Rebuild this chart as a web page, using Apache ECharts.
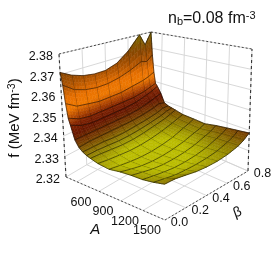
<!DOCTYPE html>
<html><head><meta charset="utf-8">
<style>html,body{margin:0;padding:0;background:#fff}#c{width:273px;height:255px;filter:blur(0.5px)}</style>
<script src="https://cdn.jsdelivr.net/npm/echarts@6/dist/echarts.min.js"></script>
</head><body><div id="c"></div>
<script>
const aValues=[150,175,200,225,250,300,350,400,450,500,600,750,900,1050,1200,1350,1500];
const betaValues=[0,0.1,0.2,0.3,0.4,0.5,0.6,0.7,0.75,0.8];
const fRows=[
[2.371,2.368,2.366,2.365,2.365,2.367,2.372,2.380,2.373,2.380],
[2.365,2.361,2.359,2.358,2.358,2.359,2.361,2.364,2.363,2.366],
[2.3563,2.353,2.352,2.351,2.351,2.351,2.352,2.353,2.354,2.3556],
[2.3495,2.347,2.346,2.346,2.346,2.346,2.346,2.347,2.348,2.349],
[2.3464,2.344,2.343,2.343,2.343,2.343,2.3435,2.345,2.346,2.3475],
[2.340,2.340,2.340,2.340,2.340,2.340,2.3405,2.342,2.343,2.344],
[2.337,2.3375,2.3375,2.3375,2.3375,2.3375,2.338,2.339,2.340,2.339],
[2.3355,2.3355,2.3355,2.335,2.335,2.3355,2.336,2.337,2.338,2.338],
[2.3345,2.3345,2.3342,2.3338,2.3338,2.3342,2.335,2.336,2.337,2.3375],
[2.3338,2.3335,2.333,2.3325,2.3325,2.333,2.334,2.335,2.336,2.337],
[2.3327,2.332,2.3315,2.331,2.331,2.3315,2.3325,2.334,2.335,2.336],
[2.332,2.3312,2.3305,2.330,2.330,2.3305,2.3315,2.3335,2.3345,2.3357],
[2.3327,2.3315,2.3305,2.330,2.330,2.3305,2.3315,2.3332,2.334,2.3353],
[2.333,2.332,2.331,2.3305,2.3305,2.331,2.332,2.3338,2.3348,2.3365],
[2.333,2.3322,2.3315,2.331,2.331,2.3315,2.3325,2.3345,2.3355,2.3373],
[2.3336,2.3328,2.332,2.3318,2.3318,2.3322,2.333,2.3348,2.336,2.338],
[2.3345,2.3345,2.3338,2.333,2.3327,2.3328,2.3335,2.335,2.3365,2.3387]
];
const aTicks=[300,600,900,1200,1500], aLabels=[600,900,1200,1500];
const betaTicks=[0,0.2,0.4,0.6,0.8];
const fTicks=[2.32,2.33,2.34,2.35,2.36,2.37,2.38];
const colorStops=[[2.3312,[186,188,0]],[2.3335,[150,138,0]],[2.336,[130,92,0]],[2.3385,[116,56,0]],[2.342,[104,24,0]],[2.3455,[124,32,0]],[2.349,[178,72,0]],[2.353,[238,120,0]],[2.358,[232,112,0]],[2.364,[176,84,0]],[2.370,[136,70,0]],[2.376,[128,90,0]],[2.380,[128,116,0]]];
const A0=150,A1=1500,B1=0.8,F0=2.32,F1=2.38;
// projected box corners, indexed by [A end][beta end][f end]
const box={c000:[66,177],c100:[165,220],c010:[149,128],c110:[248,171],c001:[59,54],c101:[163,72],c011:[151,32],c111:[252,49]};
function project(A,b,f){
  const t=(A-A0)/(A1-A0),s=b/B1,u=(f-F0)/(F1-F0);
  const m=k=>{const g=n=>box[n][k];
    const l0=g('c000')*(1-t)*(1-s)+g('c100')*t*(1-s)+g('c010')*(1-t)*s+g('c110')*t*s;
    const l1=g('c001')*(1-t)*(1-s)+g('c101')*t*(1-s)+g('c011')*(1-t)*s+g('c111')*t*s;
    return l0*(1-u)+l1*u;};
  return [m(0),m(1)];
}
function colorOf(f){
  if(f<=colorStops[0][0])return `rgb(${colorStops[0][1]})`;
  for(let i=1;i<colorStops.length;i++){
    if(f<=colorStops[i][0]){const p=(f-colorStops[i-1][0])/(colorStops[i][0]-colorStops[i-1][0]);
      const a=colorStops[i-1][1],b=colorStops[i][1];
      return `rgb(${a.map((v,k)=>Math.round(v+(b[k]-v)*p)).join(',')})`;}
  }
  return `rgb(${colorStops[colorStops.length-1][1]})`;
}
const cells=[];
for(let i=0;i<aValues.length-1;i++)for(let j=betaValues.length-2;j>=0;j--)cells.push([i,j]);
const SUB=4;
function renderCell(params,api){
  const i=api.value(0),j=api.value(1);
  const pt=(A,b,f)=>api.coord(project(A,b,f));
  const A_0=aValues[i],A_1=aValues[i+1],b_0=betaValues[j],b_1=betaValues[j+1];
  const q=[fRows[i][j],fRows[i+1][j],fRows[i][j+1],fRows[i+1][j+1]];
  const at=(u,v)=>{const f=q[0]*(1-u)*(1-v)+q[1]*u*(1-v)+q[2]*(1-u)*v+q[3]*u*v;return {f,p:pt(A_0+(A_1-A_0)*u,b_0+(b_1-b_0)*v,f)};};
  const children=[];
  for(let a=0;a<SUB;a++)for(let b=SUB-1;b>=0;b--){
    const u0=a/SUB,u1=(a+1)/SUB,v0=b/SUB,v1=(b+1)/SUB;
    const c=at((u0+u1)/2,(v0+v1)/2);
    const col=colorOf(c.f);
    children.push({type:'polygon',shape:{points:[at(u0,v0).p,at(u1,v0).p,at(u1,v1).p,at(u0,v1).p]},style:{fill:col,stroke:col,lineWidth:0.5},silent:true});
  }
  const c00=at(0,0).p,c10=at(1,0).p,c01=at(0,1).p,c11=at(1,1).p;
  const lineStyle={stroke:'rgba(0,0,0,0.75)',lineWidth:0.7,fill:null};
  children.push({type:'polyline',shape:{points:[c01,c00,c10]},style:lineStyle,silent:true});
  if(j===betaValues.length-2)children.push({type:'line',shape:{x1:c01[0],y1:c01[1],x2:c11[0],y2:c11[1]},style:lineStyle,silent:true});
  if(i===aValues.length-2)children.push({type:'line',shape:{x1:c10[0],y1:c10[1],x2:c11[0],y2:c11[1]},style:lineStyle,silent:true});
  return {type:'group',children};
}
function renderFrame(params,api){
  const C=p=>api.coord(p);
  const ch=[];
  const seg=(p,q,style)=>{const a=C(p),b=C(q);ch.push({type:'line',shape:{x1:a[0],y1:a[1],x2:b[0],y2:b[1]},style:Object.assign({fill:null},style),silent:true});};
  const grey={stroke:'#d4d4d4',lineWidth:0.9};
  const edge={stroke:'#222',lineWidth:0.8,lineDash:[2,2]};
  const thick={stroke:'#333',lineWidth:1.1,lineDash:[3,3]};
  const P=project;
  aTicks.forEach(A=>{
    seg(P(A,0,F0),P(A,B1,F0),grey);
    seg(P(A,B1,F0),P(A,B1,F1),grey);
  });
  betaTicks.forEach(b=>{
    seg(P(A0,b,F0),P(A1,b,F0),grey);
    seg(P(A0,b,F0),P(A0,b,F1),grey);
  });
  fTicks.forEach(f=>{
    seg(P(A0,0,f),P(A0,B1,f),grey);
    seg(P(A0,B1,f),P(A1,B1,f),grey);
  });
  seg(P(A0,0,F1),P(A0,B1,F1),edge);
  seg(P(A0,B1,F1),P(A1,B1,F1),edge);
  seg(P(A0,0,F0),P(A1,0,F0),edge);
  seg(P(A1,0,F0),P(A1,B1,F0),edge);
  seg(P(A0,0,F0),P(A0,0,F1),thick);
  seg(P(A1,B1,F0),P(A1,B1,F1),thick);
  const txt=(p,dx,dy,s,extra)=>{const a=C(p);ch.push({type:'text',x:a[0]+dx,y:a[1]+dy,rotation:(extra&&extra.rot)||0,style:Object.assign({text:s,fill:'#111',font:'12.5px "Liberation Sans"',align:'center',verticalAlign:'middle'},extra&&extra.style),silent:true});};
  fTicks.forEach(f=>txt(P(A0,0,f),-6,3,f.toFixed(2),{style:{align:'right'}}));
  aLabels.forEach(A=>txt(P(A,0,F0),-18,11,String(A)));
  betaTicks.forEach(b=>txt(P(A1,b,F0),14.5,3,b.toFixed(1)));
  txt(P(820,0,F0),-20,31,'A',{style:{font:'italic 15px "Liberation Sans"'}});
  txt(P(A1,0.4,F0),31,17,'β',{rot:0.35,style:{font:'14px "Liberation Sans"'}});
  return {type:'group',children:ch};
}
const chart=echarts.init(document.getElementById('c'),null,{renderer:'canvas'});
chart.setOption({
  animation:false,backgroundColor:'#fff',
  title:{show:false},
  grid:{left:0,right:0,top:0,bottom:0},
  xAxis:{type:'value',min:0,max:273,show:false},
  yAxis:{type:'value',min:0,max:255,inverse:true,show:false},
  graphic:[
    {type:'text',left:168,top:10,z:10,style:{text:'{n|n}{s|b}{n|=0.08 fm}{u|-3}',fill:'#111',rich:{n:{font:'16px "Liberation Sans"',fill:'#111'},s:{font:'11px "Liberation Sans"',fill:'#111',padding:[6,0,0,0]},u:{font:'11px "Liberation Sans"',fill:'#111',padding:[0,0,6,0]}}}},
    {type:'text',x:15,y:118,rotation:Math.PI/2,z:10,style:{text:'{n|f (MeV fm}{u|-3}{n|)}',align:'center',verticalAlign:'middle',fill:'#111',rich:{n:{font:'15px "Liberation Sans"',fill:'#111'},u:{font:'10.5px "Liberation Sans"',fill:'#111',padding:[0,0,6,0]}}}}
  ],
  series:[
    {type:'custom',coordinateSystem:'cartesian2d',data:[[0,0]],renderItem:renderFrame,silent:true,z:1,clip:false},
    {type:'custom',coordinateSystem:'cartesian2d',data:cells,renderItem:renderCell,silent:true,z:2,clip:false,encode:{x:0,y:1},progressive:0}
  ]
});
</script></body></html>
